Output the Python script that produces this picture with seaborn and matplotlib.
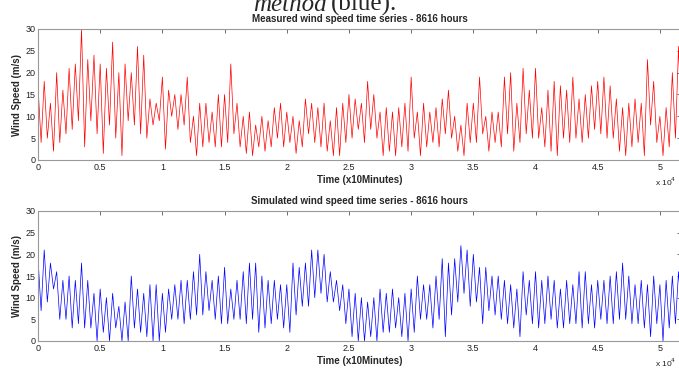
import numpy as np
import pandas as pd
import matplotlib
matplotlib.use('Agg')
import matplotlib.pyplot as plt
import seaborn as sns

# sampling grid, 500 ten-minute steps apart (0 .. 5.15 x 10^4)
step = 500
t = np.arange(104) * step

# measured series: local highs / lows read per 500-step window
meas_hi = [17, 18, 13, 20, 16, 21, 22, 30, 23, 24,
           22, 21, 27, 20, 22, 20, 26, 24, 14, 13,
           19, 16, 15, 15, 19, 10, 13, 13, 11, 15,
           15, 22, 13, 10, 11, 8, 10, 9, 12, 13,
           11, 10, 9, 14, 13, 12, 13, 9, 12, 13,
           15, 14, 13, 18, 15, 11, 12, 11, 12, 13,
           19, 11, 13, 11, 12, 14, 16, 10, 8, 13,
           13, 19, 10, 11, 11, 19, 20, 13, 21, 16,
           21, 12, 16, 18, 17, 16, 19, 14, 15, 17,
           18, 19, 17, 14, 12, 13, 14, 13, 23, 18,
           10, 12, 20, 26]
meas_lo = [4, 5, 2, 4, 6, 7, 9, 3, 9, 6,
           1.5, 8, 5, 1, 9, 8, 6, 5, 8, 9,
           2.5, 10, 7, 8, 4, 1, 3, 4, 3, 3,
           4, 6, 3, 1.5, 1, 3, 2, 3, 5, 3,
           4, 1.5, 3, 6, 4, 3, 2, 1, 1, 4,
           5, 7, 4, 7, 5, 1, 2, 1, 3, 2,
           5, 1, 3, 4, 3, 6, 5, 2, 1, 4,
           4, 6, 2, 4, 3, 6, 2, 4, 6, 5,
           5, 3, 2, 1, 5, 4, 5, 4, 5, 7,
           6, 5, 5, 2, 1, 3, 4, 1, 8, 4,
           1, 3, 5, 6]

# simulated series
sim_hi = [19, 21, 18, 16, 14, 15, 14, 18, 14, 11,
          12, 10, 11, 8, 9, 15, 12, 11, 13, 13,
          11, 12, 13, 14, 14, 16, 20, 16, 14, 15,
          17, 12, 14, 16, 18, 18, 15, 14, 14, 13,
          13, 18, 17, 18, 21, 21, 20, 16, 14, 13,
          12, 11, 10, 9, 10, 12, 11, 12, 10, 11,
          12, 15, 13, 13, 15, 19, 18, 19, 22, 21,
          20, 17, 17, 15, 15, 14, 13, 12, 16, 14,
          16, 14, 15, 14, 12, 14, 13, 16, 16, 13,
          14, 14, 15, 16, 18, 15, 13, 14, 13, 15,
          13, 14, 15, 16]
sim_lo = [7, 9, 12, 5, 5, 3, 4, 3, 3, 0,
          2, 0, 3, 0, 0, 3, 2, 1, 0, 0,
          2, 5, 5, 4, 5, 6, 6, 7, 5, 4,
          4, 5, 5, 4, 5, 2, 3, 4, 5, 3,
          2, 6, 8, 8, 10, 11, 9, 9, 7, 4,
          1, 0, 0, 1, 0, 2, 2, 3, 1, 0,
          2, 5, 5, 3, 5, 1, 6, 9, 11, 8,
          9, 4, 7, 6, 5, 4, 3, 1, 6, 4,
          3, 4, 5, 3, 3, 4, 4, 3, 4, 3,
          5, 4, 4, 5, 5, 4, 4, 3, 1, 4,
          0, 3, 4, 6]

xticks = np.arange(0, 5.01, 0.5)
xtick_labels = ['0', '0.5', '1', '1.5', '2', '2.5', '3', '3.5', '4', '4.5', '5']


def zigzag(hi, lo):
    x = np.column_stack([t, t + step / 2]).ravel()
    y = np.column_stack([hi, lo]).ravel()
    return pd.DataFrame({'time': x, 'speed': y})


sns.set_style('white')
plt.rcParams['font.family'] = ['Liberation Sans', 'DejaVu Sans']

fig = plt.figure(figsize=(6.79, 3.68), dpi=100)
ax1 = fig.add_axes([38 / 679, 1 - 160 / 368, 643 / 679, 131 / 368])
ax2 = fig.add_axes([38 / 679, 1 - 341 / 368, 643 / 679, 130 / 368])

panels = [(ax1, zigzag(meas_hi, meas_lo), '#ff0000',
           'Measured wind speed time series - 8616 hours'),
          (ax2, zigzag(sim_hi, sim_lo), '#0000ff',
           'Simulated wind speed time series - 8616 hours')]

for ax, df, col, title in panels:
    sns.lineplot(data=df, x='time', y='speed', ax=ax, color=col,
                 linewidth=0.5, estimator=None, sort=False)
    ax.set_xlim(0, 51696)
    ax.set_ylim(0, 30)
    ax.set_xticks(xticks * 1e4, labels=xtick_labels)
    ax.set_yticks(np.arange(0, 31, 5))
    ax.tick_params(direction='in', length=3, width=0.6, top=True, right=True,
                   labelsize=6.5, pad=2, colors='#555555', labelcolor='#222222')
    for s in ax.spines.values():
        s.set_color('#999999')
        s.set_linewidth(0.8)
    ax.set_title(title, fontsize=7, fontweight='bold', pad=5)
    ax.set_xlabel('Time (x10Minutes)', fontsize=7, fontweight='bold', labelpad=2)
    ax.set_ylabel('Wind Speed (m/s)', fontsize=7, fontweight='bold', labelpad=2)

fig.text(655 / 679, 1 - 186 / 368, 'x 10$^4$', fontsize=6, color='#222222')
fig.text(655 / 679, 1 - 367 / 368, 'x 10$^4$', fontsize=6, color='#222222')

# clipped caption above the chart
fig.text(327 / 679, 1 - 11 / 368, 'method', fontsize=18, style='italic',
         family='Liberation Serif', ha='right', va='baseline')
fig.text(331 / 679, 1 - 11 / 368, '(blue).', fontsize=18,
         family='Liberation Serif', ha='left', va='baseline')

fig.savefig('out.png', dpi=100)
